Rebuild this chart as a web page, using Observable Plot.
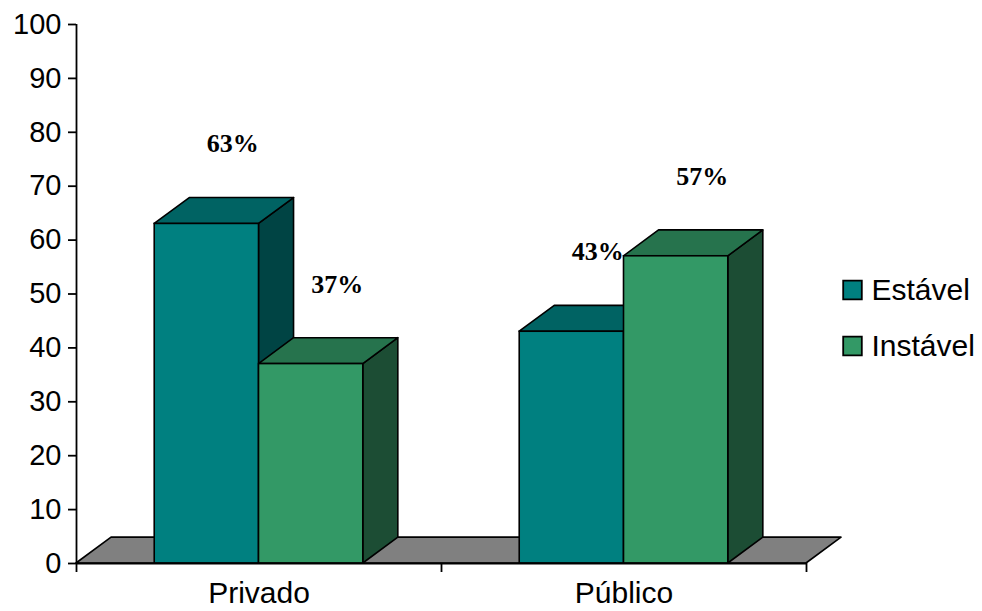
<!DOCTYPE html>
<html>
<head>
<meta charset="utf-8">
<script src="https://cdn.jsdelivr.net/npm/d3@7"></script>
<script src="https://cdn.jsdelivr.net/npm/@observablehq/plot@0.6"></script>
<style>
  html, body { margin: 0; padding: 0; background: #fff; }
  #chart svg { display: block; }
</style>
</head>
<body>
<div id="chart"></div>
<script>
// Categories, series and values (percent)
const categories = ["Privado", "Público"];
const seriesNames = ["Estável", "Instável"];
const estavel = [63, 43];
const instavel = [37, 57];
const yTicks = [0, 10, 20, 30, 40, 50, 60, 70, 80, 90, 100];

// Face colours per series: front, top, side
const palette = {
  "Estável":  {front: "#008080", top: "#006363", side: "#004444"},
  "Instável": {front: "#339966", top: "#26734d", side: "#1c4d34"}
};

// Column geometry: each category occupies one unit on x
const gapWidth = 1.5;                          // gap between groups, relative to a bar
const barW = 1 / (seriesNames.length + gapWidth);
const depthX = 0.096;                          // 3-D depth along x (category units)
const depthY = 4.8;                            // 3-D depth along y (percent units)

const bars = [];
categories.forEach((c, i) => {
  [estavel, instavel].forEach((vals, j) => {
    const x0 = i + 0.5 - barW * seriesNames.length / 2 + j * barW;
    bars.push({category: c, series: seriesNames[j], value: vals[i], x0, x1: x0 + barW});
  });
});

// Faces as polygons in data space
const tops = bars.flatMap((b, k) => [
  {k, series: b.series, y: b.value, xa: b.x0, xb: b.x1},
  {k, series: b.series, y: b.value + depthY, xa: b.x0 + depthX, xb: b.x1 + depthX}
]);
const sides = bars.flatMap((b, k) => [
  {k, series: b.series, x: b.x1, ya: 0, yb: b.value},
  {k, series: b.series, x: b.x1 + depthX, ya: depthY, yb: b.value + depthY}
]);
const floor = [
  {y: 0, xa: 0, xb: categories.length},
  {y: depthY, xa: depthX, xb: categories.length + depthX}
];

const axisFont = "Liberation Sans, Arial, sans-serif";
const stroke = "#000";
const sw = 1.6;

// Legend entries, stacked below the frame's vertical middle
const legendStep = 56;
const legendMarks = seriesNames.flatMap((name, i) => [
  Plot.dot([name], {frameAnchor: "right", dx: 46, dy: -4 + i * legendStep, symbol: "square", r: 10.5,
    fill: palette[name].front, stroke, strokeWidth: 1.8}),
  Plot.text([name], {frameAnchor: "right", dx: 65, dy: -4 + i * legendStep, text: d => d,
    textAnchor: "start", fontSize: 30, fill: "#000"})
]);

const chart = Plot.plot({
  width: 982,
  height: 611,
  marginLeft: 76,
  marginRight: 176,
  marginTop: 24,
  marginBottom: 48,
  style: {fontFamily: axisFont, background: "#fff", overflow: "visible"},
  x: {type: "linear", domain: [0, categories.length]},
  y: {type: "linear", domain: [0, 100]},
  marks: [
    // floor
    Plot.areaX(floor, {y: "y", x1: "xa", x2: "xb", fill: "#808080", stroke, strokeWidth: sw, strokeLinejoin: "round"}),
    // sides
    Plot.areaY(sides, {x: "x", y1: "ya", y2: "yb", z: "k",
      fill: d => palette[d.series].side, stroke, strokeWidth: sw, strokeLinejoin: "round"}),
    // tops
    Plot.areaX(tops, {y: "y", x1: "xa", x2: "xb", z: "k",
      fill: d => palette[d.series].top, stroke, strokeWidth: sw, strokeLinejoin: "round"}),
    // fronts
    Plot.rect(bars, {x1: "x0", x2: "x1", y1: 0, y2: "value",
      fill: d => palette[d.series].front, stroke, strokeWidth: sw}),
    // axes
    Plot.ruleX([0], {y1: 0, y2: 100, stroke, strokeWidth: 1.8}),
    Plot.ruleY([0], {x1: 0, x2: categories.length, stroke, strokeWidth: 1.8}),
    Plot.axisY({ticks: yTicks, tickSize: 8, tickPadding: 7, fontSize: 29, label: null,
      stroke, strokeWidth: 1.8, strokeOpacity: 1, color: "#000"}),
    Plot.axisX({ticks: d3.range(categories.length + 1), tickSize: 9, tickFormat: () => "", label: null,
      stroke, strokeWidth: 1.8, strokeOpacity: 1}),
    Plot.axisX({ticks: categories.map((c, i) => i + 0.5), tickSize: 0, tickPadding: 18,
      tickFormat: v => categories[Math.floor(v)], fontSize: 30, label: null, color: "#000"}),
    // value labels
    Plot.text(bars, {x: d => (d.x0 + d.x1) / 2, y: d => d.value + depthY, text: d => `${d.value}%`,
      dx: 26, dy: -54, fontSize: 26, fontWeight: "bold", fontFamily: "Liberation Serif, Times New Roman, serif",
      fill: "#000"}),
    ...legendMarks
  ]
});

document.getElementById("chart").appendChild(chart);
</script>
</body>
</html>
